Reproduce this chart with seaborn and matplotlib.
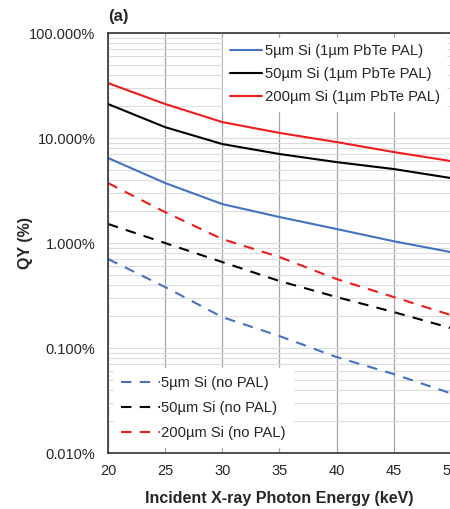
#Importing necessary libraries.
import pandas as pd
import numpy as np
import matplotlib
matplotlib.use("Agg")
import matplotlib.pyplot as plt
import matplotlib.ticker as mticker
import seaborn as sns

#Chart data (QY in percent).
energy = [20, 25, 30, 35, 40, 45, 50]
qy_5um_pal = [6.46, 3.73, 2.35, 1.77, 1.36, 1.04, 0.82]
qy_50um_pal = [21.1, 12.7, 8.77, 7.05, 5.9, 5.07, 4.16]
qy_200um_pal = [33.4, 21.1, 14.2, 11.2, 9.16, 7.36, 6.04]
qy_5um_nopal = [0.705, 0.381, 0.197, 0.130, 0.082, 0.0565, 0.037]
qy_50um_nopal = [1.52, 1.0, 0.659, 0.435, 0.306, 0.220, 0.155]
qy_200um_nopal = [3.73, 1.97, 1.09, 0.736, 0.454, 0.306, 0.206]

labels_pal = ["5µm Si (1µm PbTe PAL)", "50µm Si (1µm PbTe PAL)", "200µm Si (1µm PbTe PAL)"]
labels_nopal = ["5µm Si (no PAL)", "50µm Si (no PAL)", "200µm Si (no PAL)"]
colors = ["#4472c4", "#000000", "#ee1c1c"]

sns.set_style("white")
plt.rcParams['font.family'] = ['Liberation Sans', 'DejaVu Sans']

fig = plt.figure(figsize=(4.5, 5.09), dpi=100)
ax = fig.add_axes([0.24, 0.110, 0.762, 0.825])

#Solid lines, with the absorber layer.
pal_lines = []
for vals, lab, c in zip([qy_5um_pal, qy_50um_pal, qy_200um_pal], labels_pal, colors):
    df = pd.DataFrame({'energy': energy, 'qy': vals})
    sns.lineplot(data=df, x='energy', y='qy', color=c, linewidth=1.5, ax=ax, label=lab)
    pal_lines.append(ax.lines[-1])

#Dashed lines, bare silicon.
nopal_lines = []
for vals, lab, c in zip([qy_5um_nopal, qy_50um_nopal, qy_200um_nopal], labels_nopal, colors):
    df = pd.DataFrame({'energy': energy, 'qy': vals})
    sns.lineplot(data=df, x='energy', y='qy', color=c, linewidth=1.5, ax=ax, label=lab)
    ax.lines[-1].set_dashes([5, 4])
    nopal_lines.append(ax.lines[-1])

ax.set_yscale('log')
ax.set_xlim(20, 50)
ax.set_ylim(0.01, 100)
ax.set_xticks([20, 25, 30, 35, 40, 45, 50])
ax.yaxis.set_major_formatter(mticker.FuncFormatter(lambda v, p: f"{v:.3f}%"))
ax.yaxis.set_minor_locator(mticker.LogLocator(base=10, subs=np.arange(2, 10)))
ax.yaxis.set_minor_formatter(mticker.NullFormatter())
ax.tick_params(axis='both', which='both', length=0, labelsize=10.5, colors='#262626')
ax.tick_params(axis='x', pad=8)
ax.tick_params(axis='y', pad=9)

ax.grid(True, axis='x', which='major', color='#a6a6a6', linewidth=0.9)
ax.grid(True, axis='y', which='both', color='#dcdcdc', linewidth=0.8)
for s in ['left', 'bottom', 'top']:
    ax.spines[s].set_color('#333333')
    ax.spines[s].set_linewidth(1.2)
ax.spines['right'].set_visible(False)

ax.set_xlabel('Incident X-ray Photon Energy (keV)', fontsize=11.5, fontweight='bold', labelpad=9)
ax.set_ylabel('QY (%)', fontsize=11.5, fontweight='bold', labelpad=-3)
ax.set_title('(a)', loc='left', fontsize=12, fontweight='bold', pad=9)

leg1 = ax.legend(pal_lines, labels_pal, loc='upper right', fontsize=10.6, frameon=True,
                 fancybox=False, edgecolor='white', framealpha=1, handlelength=2.2,
                 handletextpad=0.2, labelspacing=0.62, borderaxespad=0.3,
                 borderpad=0.45)
ax.add_artist(leg1)
ax.legend(nopal_lines, labels_nopal, loc='lower left', fontsize=10.6, frameon=True,
          fancybox=False, edgecolor='white', framealpha=1, handlelength=2.6,
          handletextpad=0.1, labelspacing=0.75, borderaxespad=0.4, borderpad=0.5)

plt.savefig('out.png', dpi=100)
